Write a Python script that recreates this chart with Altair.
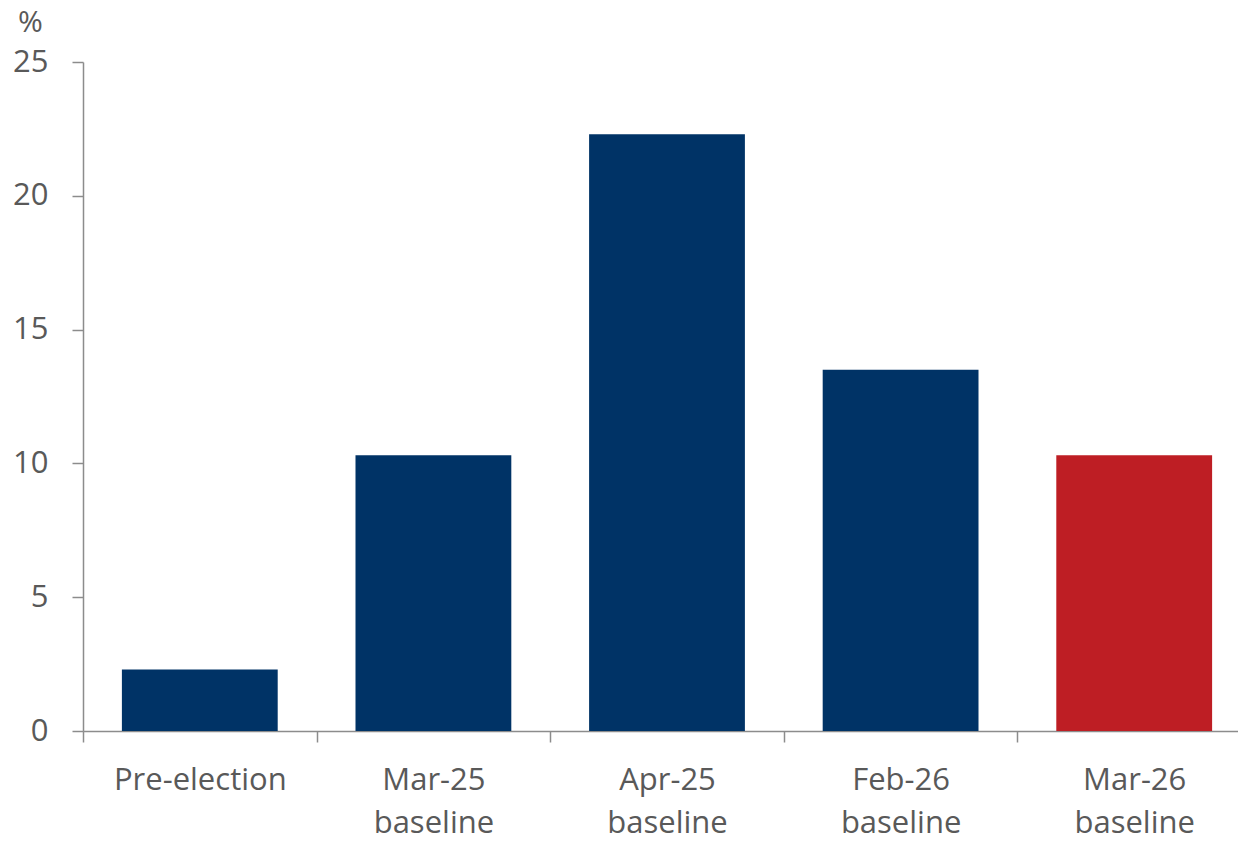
import altair as alt
import pandas as pd

categories = ["Pre-election", "Mar-25 baseline", "Apr-25 baseline", "Feb-26 baseline", "Mar-26 baseline"]
values = [2.3, 10.3, 22.3, 13.5, 10.3]
colors = ["#003366", "#003366", "#003366", "#003366", "#BE1E24"]

df = pd.DataFrame({"cat": categories, "val": values, "col": colors})

FONT = "Open Sans"
LABEL = "#595959"
AXIS = "#8c8c8c"

chart = alt.Chart(df).mark_bar(width=alt.RelativeBandSize(0.667)).encode(
    x=alt.X("cat:N", sort=categories, title=None,
            scale=alt.Scale(range=[0, 1168], paddingInner=0, paddingOuter=0),
            axis=alt.Axis(labelAngle=0, labelExpr="split(datum.label, ' ')",
                          tickBand="extent", tickSize=11, tickColor=AXIS, domainColor=AXIS,
                          domainWidth=1.5, tickWidth=1.5,
                          labelFontSize=31, labelColor=LABEL, labelFont=FONT,
                          labelPadding=23, labelLineHeight=43, labelBaseline="top")),
    y=alt.Y("val:Q", scale=alt.Scale(domain=[0, 25], nice=False),
            axis=alt.Axis(values=[0, 5, 10, 15, 20, 25], grid=False, title="%",
                          titleAngle=0, titleX=-53, titleY=-40, titleAlign="center",
                          titleBaseline="middle", titleFontSize=30, titleFontWeight="normal",
                          titleColor=LABEL, titleFont=FONT,
                          tickSize=11, tickColor=AXIS, domainColor=AXIS,
                          domainWidth=1.5, tickWidth=1.5,
                          labelFontSize=31, labelColor=LABEL, labelFont=FONT,
                          labelPadding=24)),
    color=alt.Color("col:N", scale=None),
).properties(
    width=1155, height=669,
    background="white",
    autosize=alt.AutoSizeParams(type="none"),
    padding={"left": 83, "top": 62, "right": 0, "bottom": 110},
).configure_view(stroke=None)

chart.save("out.html", embed_options={"renderer": "svg", "actions": False})
